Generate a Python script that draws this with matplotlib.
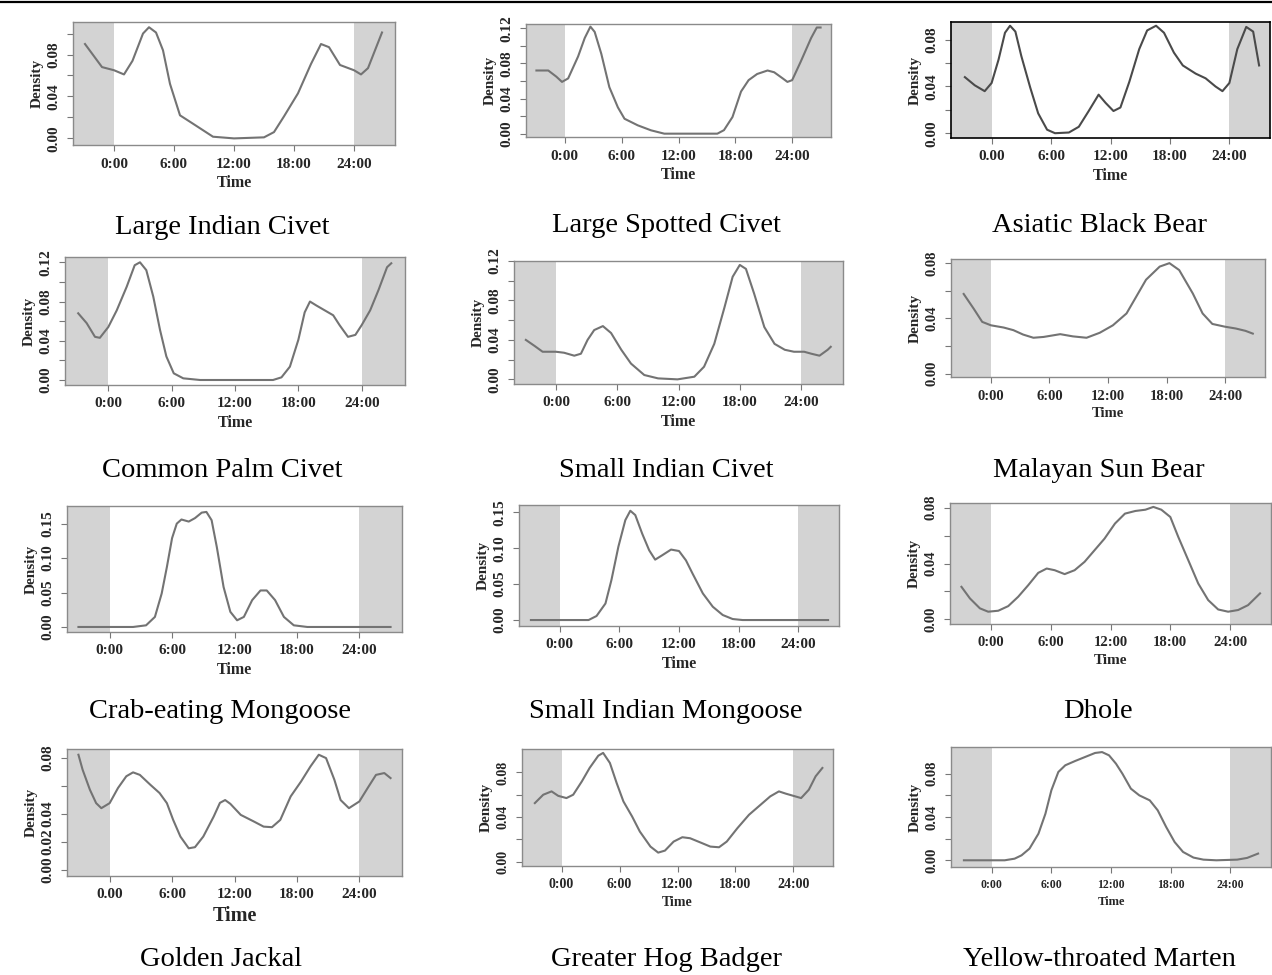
import matplotlib
matplotlib.use("Agg")
import matplotlib.pyplot as plt
from matplotlib.lines import Line2D

plt.rcParams['font.family'] = ['Liberation Serif', 'DejaVu Serif']

W, H = 1272, 975

# ---- data: (hour, density) ----
lic_h = [-2.9, -1.2, 0, 1, 1.85, 2.9, 3.5, 4.2, 4.9, 5.6, 6.6, 7.9, 9.9, 12, 15, 16, 17, 18.4, 19.7, 20.7, 21.5, 22.6, 24, 24.7, 25.4, 26.8]
lic_d = [0.090, 0.068, 0.065, 0.061, 0.074, 0.100, 0.106, 0.101, 0.084, 0.052, 0.022, 0.014, 0.0016, 0.0, 0.001, 0.006, 0.021, 0.043, 0.071, 0.090, 0.087, 0.070, 0.065, 0.061, 0.067, 0.101]

lsc_h = [-3.0, -1.75, -0.9, -0.3, 0.35, 1.4, 2.1, 2.7, 3.15, 3.85, 4.7, 5.6, 6.3, 7.7, 9.1, 10.5, 16.1, 16.8, 17.7, 18.6, 19.4, 20.3, 21.4, 22.1, 23, 23.5, 24, 24.9, 26, 26.6, 27]
lsc_d = [0.072, 0.072, 0.065, 0.059, 0.063, 0.088, 0.109, 0.122, 0.116, 0.091, 0.053, 0.030, 0.017, 0.0095, 0.0038, 0.0, 0.0, 0.004, 0.019, 0.048, 0.061, 0.068, 0.072, 0.070, 0.063, 0.059, 0.061, 0.082, 0.109, 0.121, 0.121]

abb_h = [-2.7, -1.7, -0.7, 0, 0.7, 1.35, 1.86, 2.4, 3.0, 3.9, 4.7, 5.6, 6.4, 7.8, 8.8, 9.8, 10.8, 11.5, 12.3, 13, 13.9, 14.9, 15.7, 16.6, 17.4, 18.4, 19.3, 20.6, 21.6, 22.6, 23.3, 24, 24.8, 25.7, 26.4, 27]
abb_d = [0.048, 0.041, 0.036, 0.043, 0.063, 0.086, 0.092, 0.087, 0.066, 0.039, 0.017, 0.003, 0.0, 0.0006, 0.0055, 0.019, 0.033, 0.026, 0.019, 0.022, 0.044, 0.072, 0.088, 0.092, 0.086, 0.069, 0.058, 0.051, 0.047, 0.040, 0.036, 0.043, 0.072, 0.091, 0.087, 0.058]

cpc_h = [-2.85, -2.05, -1.26, -0.8, 0, 0.8, 1.74, 2.5, 3, 3.6, 4.26, 4.9, 5.5, 6.2, 7.1, 8.7, 15.6, 16.4, 17.2, 18, 18.6, 19.1, 19.7, 20.5, 21.3, 21.9, 22.7, 23.4, 24, 24.8, 25.6, 26.4, 26.8]
cpc_d = [0.068, 0.058, 0.044, 0.043, 0.054, 0.071, 0.095, 0.117, 0.120, 0.112, 0.085, 0.051, 0.024, 0.0068, 0.0017, 0.0, 0.0, 0.0027, 0.0136, 0.041, 0.069, 0.080, 0.076, 0.071, 0.066, 0.056, 0.044, 0.046, 0.056, 0.071, 0.092, 0.115, 0.119]

sic_h = [-2.94, -2.1, -1.3, 0, 0.8, 1.8, 2.45, 3.1, 3.75, 4.6, 5.4, 6.4, 7.35, 8.65, 10, 11.9, 13.55, 14.5, 15.5, 16.5, 17.3, 18, 18.6, 19.4, 20.4, 21.4, 22.4, 23.3, 24.3, 25, 25.8, 26.6, 26.9]
sic_d = [0.040, 0.034, 0.028, 0.028, 0.027, 0.024, 0.026, 0.040, 0.050, 0.054, 0.047, 0.030, 0.016, 0.0044, 0.001, 0.0, 0.0027, 0.0128, 0.036, 0.073, 0.104, 0.116, 0.112, 0.087, 0.053, 0.036, 0.030, 0.028, 0.028, 0.026, 0.024, 0.030, 0.033]

msb_h = [-2.8, -1.77, -0.9, 0, 1.3, 2.3, 3.3, 4.35, 5.4, 7.1, 8.4, 9.8, 11.15, 12.5, 13.9, 14.9, 15.9, 17.3, 18.3, 19.3, 20.7, 21.7, 22.7, 24, 25.1, 26.1, 26.85]
msb_d = [0.0577, 0.047, 0.0375, 0.035, 0.0334, 0.0315, 0.0283, 0.026, 0.0266, 0.0286, 0.027, 0.026, 0.0296, 0.035, 0.0436, 0.0558, 0.068, 0.0775, 0.080, 0.075, 0.058, 0.0436, 0.036, 0.034, 0.0327, 0.031, 0.029]

cem_h = [-3.0, 2.25, 3.5, 4.35, 5, 5.5, 6, 6.45, 6.9, 7.6, 8.2, 8.85, 9.3, 9.8, 10.3, 10.95, 11.6, 12.25, 12.9, 13.7, 14.5, 15.1, 15.9, 16.75, 17.7, 19, 27]
cem_d = [0.0, 0.0, 0.0024, 0.0146, 0.0485, 0.087, 0.129, 0.150, 0.156, 0.153, 0.158, 0.166, 0.167, 0.155, 0.116, 0.058, 0.022, 0.0097, 0.0146, 0.039, 0.053, 0.053, 0.039, 0.0146, 0.0024, 0.0, 0.0]

sim_h = [-2.9, 2.9, 3.7, 4.6, 5.2, 5.9, 6.6, 7.1, 7.6, 8.3, 9, 9.6, 10.3, 11.2, 12, 12.7, 13.35, 14.4, 15.4, 16.4, 17.4, 18.4, 27]
sim_d = [0.0, 0.0, 0.0056, 0.023, 0.0556, 0.102, 0.139, 0.152, 0.146, 0.120, 0.097, 0.084, 0.090, 0.098, 0.096, 0.083, 0.065, 0.037, 0.0185, 0.007, 0.0014, 0.0, 0.0]

dho_h = [-2.95, -2.1, -1.1, -0.27, 0.74, 1.74, 2.74, 3.75, 4.75, 5.6, 6.4, 7.4, 8.4, 9.4, 10.4, 11.4, 12.45, 13.45, 14.5, 15.5, 16.3, 17.1, 18, 18.8, 19.8, 20.8, 21.8, 22.8, 23.8, 24.8, 25.8, 27]
dho_d = [0.0233, 0.015, 0.0079, 0.0055, 0.0062, 0.0095, 0.0162, 0.0245, 0.0333, 0.0364, 0.0352, 0.0324, 0.0352, 0.0412, 0.0495, 0.0578, 0.0686, 0.0757, 0.0776, 0.0785, 0.0805, 0.0785, 0.0733, 0.059, 0.0424, 0.0257, 0.0138, 0.0071, 0.0055, 0.0067, 0.0102, 0.0186]

gj_h = [-3.0, -2.6, -1.9, -1.3, -0.8, 0, 0.8, 1.6, 2.25, 2.9, 3.9, 4.8, 5.5, 6.1, 6.8, 7.6, 8.2, 9, 10, 10.6, 11.1, 11.6, 12.6, 13.85, 14.8, 15.6, 16.4, 17.4, 18.4, 19.3, 20.1, 20.8, 21.6, 22.2, 23, 24, 24.8, 25.6, 26.4, 27]
gj_d = [0.0824, 0.0717, 0.0574, 0.0478, 0.0442, 0.0478, 0.0586, 0.067, 0.0698, 0.068, 0.061, 0.055, 0.0478, 0.0359, 0.0239, 0.0155, 0.0163, 0.0239, 0.0382, 0.048, 0.050, 0.0473, 0.0394, 0.0347, 0.031, 0.0306, 0.0358, 0.0526, 0.0633, 0.074, 0.0824, 0.080, 0.0645, 0.050, 0.0442, 0.049, 0.0586, 0.068, 0.0693, 0.0657]

ghb_h = [-2.77, -1.9, -1.04, -0.35, 0.5, 1.2, 2.1, 2.9, 3.8, 4.3, 5, 5.7, 6.4, 7.3, 8.1, 9.2, 10, 10.7, 11.6, 12.5, 13.3, 14.4, 15.4, 16.3, 17.1, 18.2, 19.4, 20.6, 21.6, 22.5, 23.2, 24, 24.8, 25.6, 26.3, 27]
ghb_d = [0.0525, 0.060, 0.063, 0.059, 0.057, 0.060, 0.072, 0.084, 0.095, 0.0975, 0.0885, 0.0705, 0.054, 0.0405, 0.027, 0.0135, 0.0081, 0.0099, 0.018, 0.0219, 0.021, 0.0171, 0.0135, 0.0129, 0.018, 0.030, 0.042, 0.051, 0.0585, 0.063, 0.061, 0.059, 0.057, 0.0645, 0.0765, 0.084]

ytm_h = [-2.8, 1.3, 2.3, 3, 3.8, 4.7, 5.4, 6, 6.7, 7.4, 8.4, 9.4, 10.4, 11.1, 11.8, 12.5, 13.15, 14, 14.85, 15.9, 16.7, 17.55, 18.4, 19.25, 20.3, 21.3, 22.6, 24.7, 25.7, 26.8]
ytm_d = [0.0, 0.0, 0.0015, 0.0046, 0.0108, 0.0246, 0.043, 0.0647, 0.0816, 0.0878, 0.0918, 0.0955, 0.0992, 0.100, 0.097, 0.0893, 0.080, 0.0662, 0.060, 0.0554, 0.0462, 0.0308, 0.0169, 0.0077, 0.0025, 0.0006, 0.0, 0.0006, 0.0022, 0.0062]

species = ["Large Indian Civet", "Large Spotted Civet", "Asiatic Black Bear",
           "Common Palm Civet", "Small Indian Civet", "Malayan Sun Bear",
           "Crab-eating Mongoose", "Small Indian Mongoose", "Dhole",
           "Golden Jackal", "Greater Hog Badger", "Yellow-throated Marten"]
hours = [lic_h, lsc_h, abb_h, cpc_h, sic_h, msb_h, cem_h, sim_h, dho_h, gj_h, ghb_h, ytm_h]
dens = [lic_d, lsc_d, abb_d, cpc_d, sic_d, msb_d, cem_d, sim_d, dho_d, gj_d, ghb_d, ytm_d]

x_ticks = [0, 6, 12, 18, 24]
x_labels = ["0:00", "6:00", "12:00", "18:00", "24:00"]
x_labels_dot = ["0.00", "6:00", "12:00", "18:00", "24:00"]

# y axis: tick values and which get a label
y_ticks = [[0, .02, .04, .06, .08, .10], [0, .02, .04, .06, .08, .10, .12], [0, .02, .04, .06, .08],
           [0, .02, .04, .06, .08, .10, .12], [0, .02, .04, .06, .08, .10, .12], [0, .02, .04, .06, .08],
           [0, .05, .10, .15], [0, .05, .10, .15], [0, .02, .04, .06, .08],
           [0, .02, .04, .06, .08], [0, .02, .04, .06, .08], [0, .02, .04, .06, .08]]
y_labeled = [[0, .04, .08], [0, .04, .08, .12], [0, .04, .08],
             [0, .04, .08, .12], [0, .04, .08, .12], [0, .04, .08],
             [0, .05, .10, .15], [0, .05, .10, .15], [0, .04, .08],
             [0, .02, .04, .08], [0, .04, .08], [0, .04, .08]]
y_lims = [(-0.0063, 0.111), (-0.0038, 0.125), (-0.0041, 0.0952),
          (-0.0051, 0.1254), (-0.0047, 0.120), (-0.0024, 0.083),
          (-0.0073, 0.1756), (-0.0083, 0.160), (-0.0033, 0.0833),
          (-0.0043, 0.0865), (-0.0039, 0.101), (-0.0062, 0.1047)]

# layout (pixels): left, top, right, bottom of each plot frame
frames = [(73, 22, 395, 145), (526, 24, 831, 137), (951, 22, 1270, 138),
          (65, 257, 405, 385), (514, 261, 843, 384), (951, 259, 1265, 377),
          (67, 506, 402, 632), (519, 505, 839, 626), (950, 503, 1271, 624),
          (67, 749, 402, 876), (522, 749, 833, 866), (951, 747, 1271, 867)]
captions_xy = [(222, 227), (666, 225), (1099, 225),
               (222, 470), (666, 470), (1099, 470),
               (220, 712), (666, 712), (1098, 712),
               (221, 959), (666, 959), (1099, 959)]
xtick_fs = [11, 11, 11, 11, 11, 10.5, 11, 11, 10.5, 11, 10, 8.5]
ytick_fs = [11, 11, 11, 11, 11, 10.5, 11, 11, 10.5, 11, 10, 10.5]
time_fs = [11.5, 11.5, 11.5, 11.5, 11.5, 10.5, 11.5, 11.5, 11, 14.5, 10, 9]

XLIM = (-4.1, 28.1)
SHADE = '#d3d3d3'
LINE = '#737373'

fig = plt.figure(figsize=(W / 100, H / 100), dpi=100)

for i, name in enumerate(species):
    l, t, r, b = frames[i]
    ax = fig.add_axes([l / W, 1 - b / H, (r - l) / W, (b - t) / H])
    ax.set_xlim(XLIM)
    ax.set_ylim(y_lims[i])
    ax.axvspan(XLIM[0], 0, color=SHADE, lw=0, zorder=0)
    ax.axvspan(24, XLIM[1], color=SHADE, lw=0, zorder=0)
    ax.plot(hours[i], dens[i], color=LINE if i != 2 else '#4a4a4a', lw=1.5,
            solid_joinstyle='round', zorder=2)

    xl = x_labels_dot if i in (2, 9) else x_labels
    ax.set_xticks(x_ticks)
    ax.set_xticklabels(xl, fontsize=xtick_fs[i], fontweight='bold')
    ylabs = [f"{v:.2f}" if any(abs(v - u) < 1e-9 for u in y_labeled[i]) else "" for v in y_ticks[i]]
    ax.set_yticks(y_ticks[i])
    ax.set_yticklabels(ylabs, fontsize=ytick_fs[i], fontweight='bold', rotation=90, va='center')
    ax.tick_params(axis='both', direction='out', length=4, width=0.8, color='#777777',
                   labelcolor='#262626', pad=5)
    ax.set_xlabel("Time", fontsize=time_fs[i], fontweight='bold', labelpad=3, color='#262626')
    ax.set_ylabel("Density", fontsize=11, fontweight='bold', labelpad=3, color='#262626')

    edge = 'black' if i == 2 else '#8a8a8a'
    for s in ax.spines.values():
        s.set_color(edge)
        s.set_linewidth(1.2 if i == 2 else 1.0)

    cx, cy = captions_xy[i]
    fig.text(cx / W, 1 - cy / H, name, ha='center', va='center', fontsize=20.5,
             family='Liberation Serif')

# rule across the top of the figure
fig.add_artist(Line2D([0, 1], [1 - 1.5 / H, 1 - 1.5 / H], color='black', lw=1.6))

fig.savefig("out.png", dpi=100)
